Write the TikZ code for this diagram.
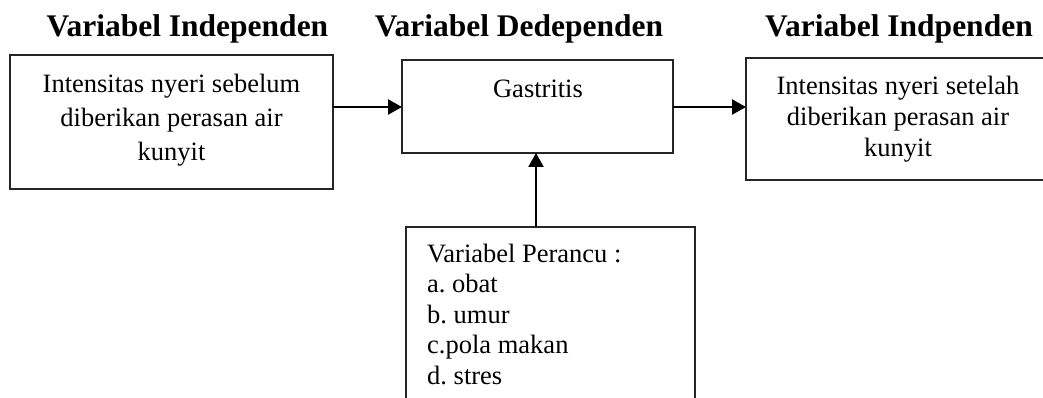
\documentclass[tikz,border=0pt]{standalone}
\usepackage{fontspec}
\setmainfont{Liberation Serif}
\usetikzlibrary{arrows.meta}
\frenchspacing
\begin{document}
\begin{tikzpicture}[x=1pt,y=-1pt,
  boxline/.style={draw=black!85,line width=1.5pt},
  head/.style={font=\fontsize{31.5}{36}\selectfont\bfseries,anchor=base,inner sep=0pt},
  body/.style={inner sep=0pt,align=center},
  conn/.style={line width=2.4pt,-{Triangle[length=14pt,width=15pt]}}]
\useasboundingbox (0,0) rectangle (1043,398);
\clip (0,0) rectangle (1043,398);
% headings
\node[head] (h1) at (187.5,37) {Variabel Independen};
\node[head] (h2) at (519,37) {Variabel Dedependen};
\node[head] (h3) at (899,37) {Variabel Indpenden};
% boxes
\draw[boxline] (10,55) rectangle (333,189);
\coordinate (b1e) at (333,107);
\draw[boxline] (402,60) rectangle (673,153);
\coordinate (b2w) at (402,107);
\coordinate (b2e) at (673,107);
\coordinate (b2s) at (536,153);
\draw[boxline] (746,58) rectangle (1055,180);
\coordinate (b3w) at (746,107);
\draw[boxline] (406,227) rectangle (695,415);
\coordinate (b4n) at (536,227);
% texts
\node[body,anchor=north,font=\fontsize{26.5}{34}\selectfont] (t1) at (171.5,74)
  {Intensitas nyeri sebelum\\diberikan perasan air\\kunyit};
\node[body,anchor=base,font=\fontsize{26.5}{32}\selectfont] (t2) at (538,98) {Gastritis};
\node[body,anchor=north,font=\fontsize{26.5}{31}\selectfont] (t3) at (898,76)
  {Intensitas nyeri setelah\\diberikan perasan air\\kunyit};
\node[inner sep=0pt,align=left,anchor=north west,font=\fontsize{26.5}{30.4}\selectfont] (t4) at (427,244)
  {Variabel Perancu :\\a. obat\\b. umur\\c.pola makan\\d. stres};
% connectors
\draw[conn] (b1e) -- (b2w);
\draw[conn] (b2e) -- (b3w);
\draw[conn] (b4n) -- (b2s);
\end{tikzpicture}
\end{document}
